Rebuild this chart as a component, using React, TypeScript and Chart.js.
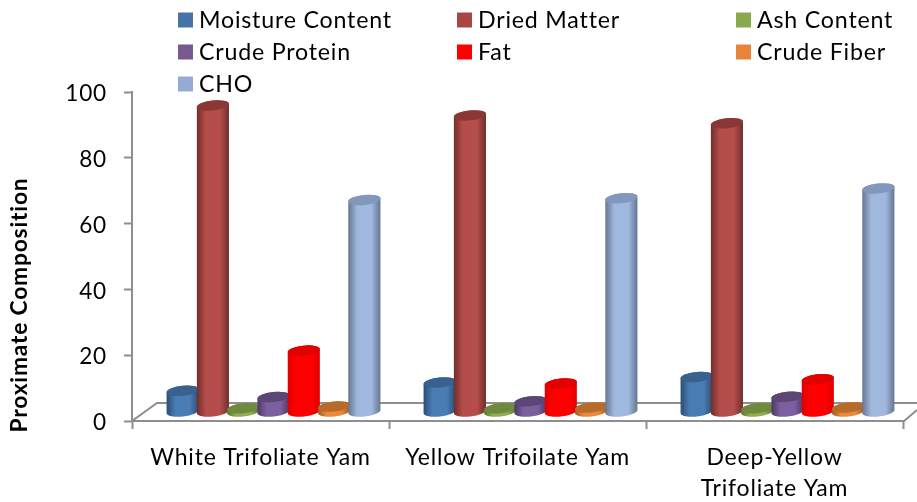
import React, { useEffect, useRef } from "react";
import { Chart, CategoryScale, registerables } from "chart.js";

const categories = ["White Trifoliate Yam", "Yellow Trifoilate Yam", ["Deep-Yellow", "Trifoliate Yam"]];
const seriesNames = ["Moisture Content", "Dried Matter", "Ash Content", "Crude Protein", "Fat", "Crude Fiber", "CHO"];
const moisture = [6.3, 8.8, 10.5];
const driedMatter = [93, 90, 87.6];
const ash = [1, 1, 1];
const protein = [4.4, 3.1, 4.5];
const fat = [18.5, 8.5, 9.8];
const fiber = [1.5, 1.2, 1.2];
const cho = [64.3, 64.8, 67.8];
const seriesValues = [moisture, driedMatter, ash, protein, fat, fiber, cho];
const yTicks = { min: 0, max: 100, step: 20 };

const bodyColors = ["#4A7CB4", "#B54D4A", "#8FAF50", "#7C5F9E", "#FF0000", "#EC8A3C", "#A0B7DE"];
const edgeColors = ["#2B4D75", "#6F2E2C", "#5A7030", "#4B3763", "#E00000", "#9C5A22", "#64768F"];
const topColors = ["#38618F", "#8A3735", "#6F8A3C", "#5C4577", "#E00000", "#B86A2A", "#8197BB"];
const swatchColors = ["#4674A8", "#A84644", "#8AA84C", "#77588F", "#FF0000", "#E8853B", "#95ABD3"];

const FONT = "Lato, 'Open Sans', sans-serif";
const AXIS_COLOR = "#8E8E8E";

class OffsetCategory extends CategoryScale {
  static id = "offsetCategory";
  static defaults = {};
  configure() {
    super.configure();
    (this as any)._startPixel += 13;
    (this as any)._endPixel += 13;
  }
}

Chart.register(...registerables, OffsetCategory as any);

const legendColumns = [178, 457, 736];
const legendRows = [20, 52, 84];

const cylinderPlugin = {
  id: "cylinders",
  beforeDraw(chart: any) {
    chart.ctx.letterSpacing = "0.8px";
  },
  beforeDatasetsDraw(chart: any) {
    const { ctx, chartArea } = chart;
    const rot = (-6 * Math.PI) / 180;
    ctx.save();
    ctx.strokeStyle = AXIS_COLOR;
    ctx.lineWidth = 2;
    ctx.beginPath();
    ctx.moveTo(chartArea.left, chartArea.bottom);
    ctx.lineTo(chartArea.left + 25, chartArea.bottom - 18);
    ctx.lineTo(chartArea.right + 14, chartArea.bottom - 18);
    ctx.moveTo(chartArea.right, chartArea.bottom + 1);
    ctx.lineTo(chartArea.right + 14, chartArea.bottom - 11);
    ctx.stroke();

    chart.data.datasets.forEach((_: any, i: number) => {
      const meta = chart.getDatasetMeta(i);
      meta.data.forEach((bar: any) => {
        const { x, y, base, width } = bar;
        const rx = width / 2 + 1;
        const ry = 5;
        const g = ctx.createLinearGradient(x - rx, 0, x + rx, 0);
        g.addColorStop(0, edgeColors[i]);
        g.addColorStop(0.28, bodyColors[i]);
        g.addColorStop(0.72, bodyColors[i]);
        g.addColorStop(1, edgeColors[i]);
        ctx.fillStyle = g;
        ctx.beginPath();
        ctx.ellipse(x, base, rx, ry, rot, 0, Math.PI, false);
        ctx.ellipse(x, y, rx, ry, rot, Math.PI, 0, false);
        ctx.closePath();
        ctx.fill();
        ctx.fillStyle = topColors[i];
        ctx.beginPath();
        ctx.ellipse(x, y, rx, ry, rot, 0, Math.PI * 2);
        ctx.fill();
      });
    });
    ctx.restore();
    return false;
  },
  afterDraw(chart: any) {
    const { ctx, chartArea } = chart;
    ctx.save();
    ctx.textBaseline = "middle";
    ctx.textAlign = "left";
    ctx.font = `23.2px ${FONT}`;
    chart.data.datasets.forEach((ds: any, i: number) => {
      const cx = legendColumns[i % 3];
      const cy = legendRows[Math.floor(i / 3)];
      ctx.fillStyle = swatchColors[i];
      ctx.fillRect(cx, cy - 7.5, 15, 15);
      ctx.fillStyle = "#000";
      ctx.fillText(ds.label, cx + 21, cy + 1);
    });
    ctx.font = `bold 22.8px ${FONT}`;
    ctx.translate(20, chartArea.bottom - 116);
    ctx.rotate(-Math.PI / 2);
    ctx.textAlign = "center";
    ctx.fillText("Proximate Composition", 0, 0);
    ctx.restore();
  },
};

export default function App() {
  const ref = useRef<HTMLCanvasElement>(null);
  useEffect(() => {
    const chart = new Chart(ref.current as any, {
      type: "bar",
      data: {
        labels: categories as any,
        datasets: seriesNames.map((label, i) => ({
          label,
          data: seriesValues[i],
          backgroundColor: swatchColors[i],
          xAxisID: "xBars",
          yAxisID: "yBars",
          barPercentage: 1,
          categoryPercentage: 0.825,
          clip: false as any,
        })),
      },
      options: {
        responsive: false,
        animation: false,
        layout: { padding: { top: 92, right: 14, left: 0, bottom: 0 } },
        plugins: { legend: { display: false }, tooltip: { enabled: false }, title: { display: false } },
        scales: {
          x: {
            type: "category",
            position: "bottom",
            offset: true,
            grid: { offset: true, drawOnChartArea: false, drawTicks: true, tickLength: 8, tickColor: AXIS_COLOR, tickWidth: 2 },
            border: { color: AXIS_COLOR, width: 2 },
            ticks: {
              font: { family: FONT, size: 23, lineHeight: 1.35 },
              color: "#000",
              maxRotation: 0,
              minRotation: 0,
              autoSkip: false,
              padding: 13,
            },
            afterFit: (s: any) => {
              s.height = 81;
            },
          },
          xBars: { type: "offsetCategory", position: "bottom", display: false, offset: true },
          y: {
            position: "left",
            min: yTicks.min,
            max: yTicks.max,
            grid: { drawOnChartArea: false, drawTicks: true, tickLength: 8, tickColor: AXIS_COLOR, tickWidth: 2 },
            border: { color: AXIS_COLOR, width: 2 },
            ticks: { stepSize: yTicks.step, font: { family: FONT, size: 22.6 }, color: "#000", padding: 17, labelOffset: 2 },
            afterFit: (s: any) => {
              s.width = 132;
            },
          },
          yBars: { position: "left", display: false, min: -2.89, max: 97.11 },
        } as any,
      } as any,
      plugins: [cylinderPlugin as any],
    });
    return () => chart.destroy();
  }, []);
  return (
    <div style={{ position: "absolute", left: 0, top: 0, width: 917, height: 502, background: "#fff" }}>
      <canvas ref={ref} width={917} height={502} style={{ display: "block" }} />
    </div>
  );
}
